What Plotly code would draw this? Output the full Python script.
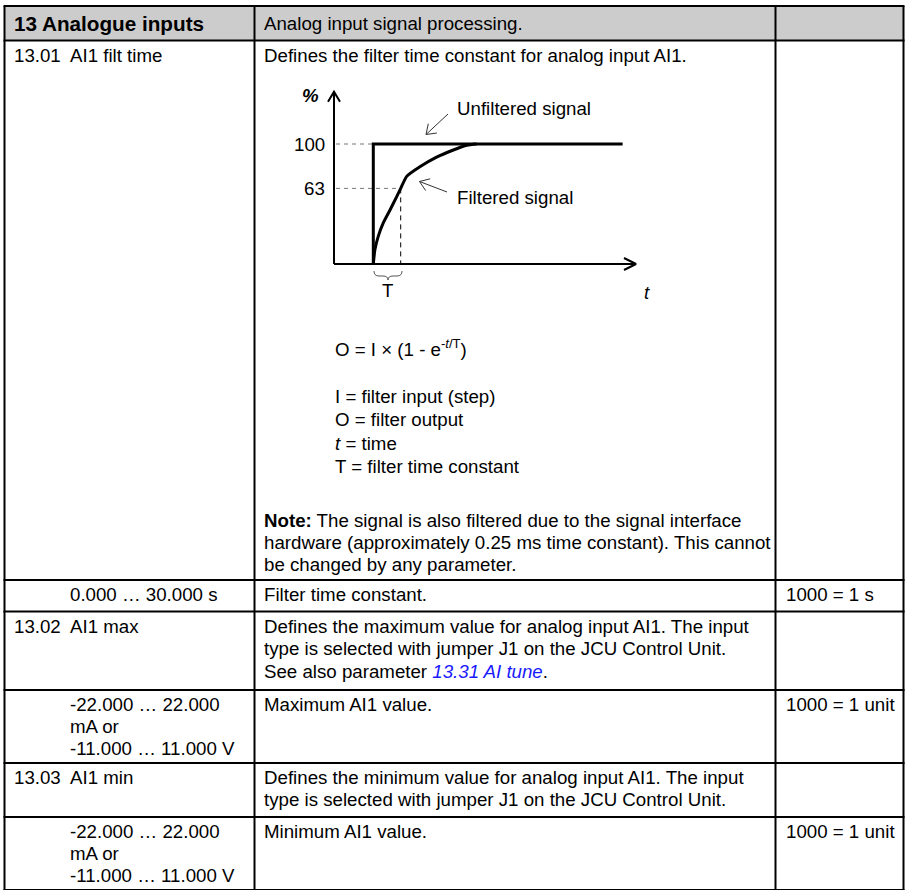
import math
import plotly.graph_objects as go

# ---- table text ----
header = ["13 Analogue inputs", "Analog input signal processing.", ""]
param_ids = ["13.01", "", "13.02", "", "13.03", ""]
param_names = [
    ["AI1 filt time"],
    ["0.000 … 30.000 s"],
    ["AI1 max"],
    ["-22.000 … 22.000", "mA or", "-11.000 … 11.000 V"],
    ["AI1 min"],
    ["-22.000 … 22.000", "mA or", "-11.000 … 11.000 V"],
]
descriptions = [
    ["Defines the filter time constant for analog input AI1."],
    ["Filter time constant."],
    ["Defines the maximum value for analog input AI1. The input",
     "type is selected with jumper J1 on the JCU Control Unit.",
     "See also parameter <i><span style='color:#1a1aff'>13.31 AI tune</span></i>."],
    ["Maximum AI1 value."],
    ["Defines the minimum value for analog input AI1. The input",
     "type is selected with jumper J1 on the JCU Control Unit."],
    ["Minimum AI1 value."],
]
scalings = ["", "1000 = 1 s", "", "1000 = 1 unit", "", "1000 = 1 unit"]

formula = "O = I × (1 - e<sup>-<i>t</i>/T</sup>)"
legend_lines = ["I = filter input (step)", "O = filter output",
                "<i>t</i> = time", "T = filter time constant"]
note_lines = ["<b>Note:</b> The signal is also filtered due to the signal interface",
              "hardware (approximately 0.25 ms time constant). This cannot",
              "be changed by any parameter."]

# ---- step response (time in units of T, output in %) ----
t_step = [0, 0, 9.1]
out_step = [0, 100, 100]
t_filtered = [0, 0.06, 0.18, 0.36, 0.61, 0.85, 1.0, 1.22, 1.7, 2.31, 2.92, 3.41, 3.77]
out_filtered = [0, 12, 23, 34, 45, 56, 63, 73, 81, 89, 95, 99, 100]
ref_levels = [100, 63]
tau = 1.0

# ---- geometry (pixels) ----
W, H = 905, 890
FONT = "Liberation Sans, Arial, sans-serif"
FS = 18.7
LINE = 22
col_x = [4.5, 254.5, 775.5, 903.5]
row_y = [6, 40.5, 580, 611.5, 690, 763, 817, 890]
text_x = [12, 68, 262, 784]

# diagram mapping: t=0 at px 373.3, 27.4 px per T; 0 % at py 264, 1.2 px per %
T0_PX, PX_T = 373.3, 27.4
Y0_PX, PX_PCT = 264, 1.2
box_l, box_r, box_t, box_b = 315, 665, 78, 280
x2_range = [(box_l - T0_PX) / PX_T, (box_r - T0_PX) / PX_T]
y2_range = [(Y0_PX - box_b) / PX_PCT, (Y0_PX - box_t) / PX_PCT]
t_axis0 = (334 - T0_PX) / PX_T
t_axis1 = (636 - T0_PX) / PX_T
out_top = (Y0_PX - 91.7) / PX_PCT


def txt(x, y, s, size=FS, xanchor="left", xref="x", yref="y"):
    return dict(x=x, y=y, text=s, xref=xref, yref=yref, xanchor=xanchor,
                yanchor="middle", showarrow=False,
                font=dict(size=size, family=FONT, color="black"))


fig = go.Figure()
fig.add_trace(go.Scatter(x=[0], y=[0], mode="markers", marker=dict(opacity=0),
                         hoverinfo="skip", showlegend=False))

# axes with open arrow heads (data units of the diagram)
ax_dx, ax_dy = 6 / PX_T, 10 / PX_PCT
xh_dx, xh_dy = 12 / PX_T, 6 / PX_PCT
fig.add_trace(go.Scatter(
    x=[t_axis0, t_axis0, None, t_axis0 - ax_dx, t_axis0, t_axis0 + ax_dx, None,
       t_axis0, t_axis1, None, t_axis1 - xh_dx, t_axis1, t_axis1 - xh_dx],
    y=[0, out_top, None, out_top - ax_dy, out_top, out_top - ax_dy, None,
       0, 0, None, xh_dy, 0, -xh_dy],
    mode="lines", line=dict(color="black", width=2), xaxis="x2", yaxis="y2",
    hoverinfo="skip", showlegend=False))

# reference dashes
dash_start = (336 - T0_PX) / PX_T
fig.add_trace(go.Scatter(
    x=[dash_start, 0, None, dash_start, tau], y=[ref_levels[0]] * 2 + [None] + [ref_levels[1]] * 2,
    mode="lines", line=dict(color="#777777", width=1, dash="4px,4px"),
    xaxis="x2", yaxis="y2", hoverinfo="skip", showlegend=False))
fig.add_trace(go.Scatter(
    x=[tau, tau], y=[ref_levels[1], 0], mode="lines",
    line=dict(color="black", width=1, dash="5px,4px"),
    xaxis="x2", yaxis="y2", hoverinfo="skip", showlegend=False))

# unfiltered step and filtered response
fig.add_trace(go.Scatter(x=t_step, y=out_step, mode="lines",
                         line=dict(color="black", width=3),
                         xaxis="x2", yaxis="y2", showlegend=False))
fig.add_trace(go.Scatter(x=t_filtered, y=out_filtered, mode="lines",
                         line=dict(color="black", width=3, shape="spline", smoothing=0.6),
                         xaxis="x2", yaxis="y2", showlegend=False))

shapes = []
# header fill
shapes.append(dict(type="rect", xref="x", yref="y", x0=col_x[0], x1=col_x[-1],
                   y0=row_y[0], y1=row_y[1], fillcolor="#cccccc",
                   line=dict(width=0), layer="below"))
for yy in row_y:
    shapes.append(dict(type="line", xref="x", yref="y", x0=col_x[0] - 1, x1=col_x[-1] + 1,
                       y0=yy, y1=yy, line=dict(color="black", width=2)))
for xx in col_x:
    shapes.append(dict(type="line", xref="x", yref="y", x0=xx, x1=xx,
                       y0=row_y[0], y1=row_y[-1], line=dict(color="black", width=2)))


def pointer(tail, tip, length=11, ang=35):
    dx, dy = tail[0] - tip[0], tail[1] - tip[1]
    n = math.hypot(dx, dy)
    ux, uy = dx / n, dy / n
    arms = []
    for a in (ang, -ang):
        r = math.radians(a)
        arms.append((tip[0] + length * (ux * math.cos(r) - uy * math.sin(r)),
                     tip[1] + length * (ux * math.sin(r) + uy * math.cos(r))))
    path = (f"M{tail[0]},{tail[1]} L{tip[0]},{tip[1]} "
            f"M{arms[0][0]:.1f},{arms[0][1]:.1f} L{tip[0]},{tip[1]} L{arms[1][0]:.1f},{arms[1][1]:.1f}")
    return dict(type="path", xref="x", yref="y", path=path,
                line=dict(color="#333333", width=1))


shapes.append(pointer((448, 114), (426, 134.5)))
shapes.append(pointer((447, 192), (419.5, 181.5)))
# brace under T
shapes.append(dict(type="path", xref="x", yref="y",
                   path="M374,271 Q374,276 379,276 L383,276 Q388,276 388,280 "
                        "Q388,276 393,276 L397,276 Q402,276 402,271",
                   line=dict(color="#555555", width=1)))

ann = []
ann.append(txt(text_x[0], 23.5, "<b>" + header[0] + "</b>", size=20.7))
ann.append(txt(text_x[2], 23.5, header[1]))
FIRST = 14.5
for i in range(len(param_ids)):
    top = row_y[i + 1]
    y0 = top + FIRST
    if param_ids[i]:
        ann.append(txt(text_x[0], y0, param_ids[i]))
    for k, s in enumerate(param_names[i]):
        ann.append(txt(text_x[1], y0 + k * LINE, s))
    for k, s in enumerate(descriptions[i]):
        ann.append(txt(text_x[2], y0 + k * LINE + (1.5 if k == 2 else 0), s))
    if scalings[i]:
        ann.append(txt(text_x[3], y0, scalings[i]))

# diagram labels
ann.append(txt(310, 95, "<b><i>%</i></b>", xanchor="center"))
for lv in ref_levels:
    ann.append(txt((327 - T0_PX) / PX_T, lv, str(lv), xanchor="right", xref="x2", yref="y2"))
ann.append(txt(455, 108, "Unfiltered signal"))
ann.append(txt(455, 197, "Filtered signal"))
ann.append(txt(387, 290, "T", xanchor="center"))
ann.append(txt(647, 292, "<i>t</i>", xanchor="center"))

ann.append(txt(333, 348, formula))
for k, s in enumerate(legend_lines):
    ann.append(txt(333, 396 + k * 23.5, s))
for k, s in enumerate(note_lines):
    ann.append(txt(text_x[2], 520 + k * LINE, s))

fig.update_layout(
    width=W, height=H, margin=dict(l=0, r=0, t=0, b=0),
    paper_bgcolor="white", plot_bgcolor="rgba(0,0,0,0)",
    showlegend=False, shapes=shapes, annotations=ann,
    xaxis=dict(range=[0, W], domain=[0, 1], visible=False, fixedrange=True),
    yaxis=dict(range=[H, 0], domain=[0, 1], visible=False, fixedrange=True),
    xaxis2=dict(range=x2_range, domain=[box_l / W, box_r / W], anchor="y2",
                visible=False, fixedrange=True),
    yaxis2=dict(range=y2_range, domain=[1 - box_b / H, 1 - box_t / H], anchor="x2",
                visible=False, fixedrange=True),
)

fig.write_html("out.html", config={"displayModeBar": False},
               post_script="document.body.style.margin='0';document.body.style.overflow='hidden';")
